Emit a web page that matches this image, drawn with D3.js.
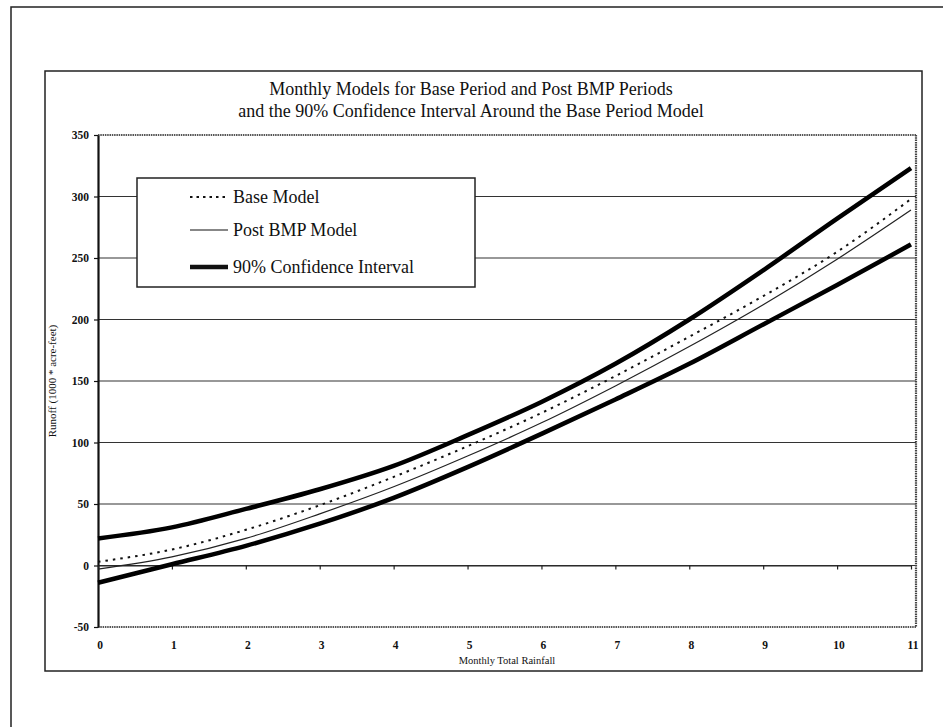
<!DOCTYPE html>
<html>
<head>
<meta charset="utf-8">
<script src="https://cdn.jsdelivr.net/npm/d3@7"></script>
<style>
  body { margin: 0; background: #fff; }
  svg { display: block; }
  text { font-family: "Liberation Serif", "Times New Roman", serif; }
  .tick-label { font-size: 11.5px; font-weight: bold; fill: #111; }
</style>
</head>
<body>
<svg id="chart"></svg>
<script>
// Monthly total rainfall (x) and the modelled runoff for each series
const rainfall = [0, 1, 2, 3, 4, 5, 6, 7, 8, 9, 10, 11];
const baseModel = [3, 13, 29, 49, 72, 97, 124, 154, 186, 219, 255, 298];
const postBmpModel = [-3, 7, 22, 42, 64, 89, 116, 146, 178, 212, 249, 289];
const ciUpper = [22, 31, 46, 62, 81, 106, 133, 164, 200, 240, 282, 323];
const ciLower = [-14, 1, 16, 34, 55, 80, 107, 135, 164, 196, 228, 261];

const yTicks = [-50, 0, 50, 100, 150, 200, 250, 300, 350];
const xTicks = [0, 1, 2, 3, 4, 5, 6, 7, 8, 9, 10, 11];

const titleLines = [
    'Monthly Models for Base Period and Post BMP Periods',
    'and the 90% Confidence Interval Around the Base Period Model'
];
const legendLabels = ['Base Model', 'Post BMP Model', '90% Confidence Interval'];

const width = 943, height = 727;
const serif = '"Liberation Serif", "Times New Roman", serif';

const svg = d3.select('#chart')
    .attr('width', width)
    .attr('height', height);

// outer page frame (runs off the right and bottom of the scan)
svg.append('rect')
    .attr('x', 11).attr('y', 7)
    .attr('width', 1000).attr('height', 800)
    .attr('fill', 'none')
    .attr('stroke', '#222')
    .attr('stroke-width', 1.5);

// chart area box
svg.append('rect')
    .attr('x', 45).attr('y', 71)
    .attr('width', 877).attr('height', 600)
    .attr('fill', '#fff')
    .attr('stroke', '#222')
    .attr('stroke-width', 1.5);

// title
svg.append('g')
    .selectAll('text')
    .data(titleLines)
    .join('text')
    .attr('x', 471)
    .attr('y', (d, i) => 95 + i * 22)
    .attr('text-anchor', 'middle')
    .style('font-family', serif)
    .style('font-size', '18px')
    .style('fill', '#111')
    .text(d => d);

// scales
const plot = {left: 98, right: 916, top: 135, bottom: 627};
const xScale = d3.scaleLinear().domain([0, 11]).range([98, 911]);
const yScale = d3.scaleLinear().domain([-50, 350]).range([plot.bottom, plot.top]);

// horizontal gridlines
svg.append('g')
    .selectAll('line')
    .data(yTicks.filter(d => d > -50 && d < 350))
    .join('line')
    .attr('x1', plot.left).attr('x2', plot.right)
    .attr('y1', d => yScale(d)).attr('y2', d => yScale(d))
    .attr('stroke', '#333')
    .attr('stroke-width', 1.2);

// plot area border: textured top/bottom, thick right
svg.append('g')
    .selectAll('line')
    .data([plot.top, plot.bottom])
    .join('line')
    .attr('x1', plot.left).attr('x2', plot.right)
    .attr('y1', d => d).attr('y2', d => d)
    .attr('stroke', '#555')
    .attr('stroke-width', 2.2)
    .attr('stroke-dasharray', '1.5,0.8');
svg.append('line')
    .attr('x1', plot.right).attr('x2', plot.right)
    .attr('y1', plot.top).attr('y2', plot.bottom)
    .attr('stroke', '#444')
    .attr('stroke-width', 2.2)
    .attr('stroke-dasharray', '1.5,0.8');

// y axis
const yAxis = d3.axisLeft(yScale)
    .tickValues(yTicks)
    .tickFormat(d => String(d))
    .tickSize(4)
    .tickSizeOuter(0)
    .tickPadding(5);
const yAxisG = svg.append('g')
    .attr('transform', `translate(${plot.left},0)`)
    .call(yAxis);
yAxisG.attr('font-family', null);
yAxisG.select('.domain').attr('stroke', '#111').attr('stroke-width', 2.2);
yAxisG.selectAll('.tick line').attr('stroke', '#111').attr('stroke-width', 1.2);
yAxisG.selectAll('.tick text')
    .attr('class', 'tick-label')
    .style('font-family', serif);

// x axis sits on the zero line, labels hang below the plot
const xAxis = d3.axisBottom(xScale)
    .tickValues(xTicks)
    .tickSize(4)
    .tickSizeOuter(0)
    .tickFormat('');
const xAxisG = svg.append('g')
    .attr('transform', `translate(0,${yScale(0)})`)
    .call(xAxis);
xAxisG.select('.domain').attr('stroke', '#222').attr('stroke-width', 1.2);
xAxisG.selectAll('.tick line').attr('stroke', '#222').attr('stroke-width', 1.2);

svg.append('g')
    .selectAll('text')
    .data(xTicks)
    .join('text')
    .attr('class', 'tick-label')
    .attr('x', d => xScale(d) + 2)
    .attr('y', 649)
    .attr('text-anchor', 'middle')
    .style('font-family', serif)
    .text(d => d);

// axis titles
svg.append('text')
    .attr('x', 507)
    .attr('y', 664)
    .attr('text-anchor', 'middle')
    .style('font-family', serif)
    .style('font-size', '10.5px')
    .style('fill', '#111')
    .text('Monthly Total Rainfall');

svg.append('text')
    .attr('transform', 'translate(56,381) rotate(-90)')
    .attr('text-anchor', 'middle')
    .style('font-family', serif)
    .style('font-size', '11px')
    .style('fill', '#111')
    .text('Runoff (1000 * acre-feet)');

// series
const line = d3.line()
    .x((d, i) => xScale(rainfall[i]))
    .y(d => yScale(d))
    .curve(d3.curveMonotoneX);

const series = [
    {values: ciUpper, width: 4.5, dash: null, color: '#000'},
    {values: ciLower, width: 4.5, dash: null, color: '#000'},
    {values: postBmpModel, width: 1.2, dash: null, color: '#222'},
    {values: baseModel, width: 2, dash: '2.5,5', color: '#111'}
];

svg.append('g')
    .selectAll('path')
    .data(series)
    .join('path')
    .attr('d', d => line(d.values))
    .attr('fill', 'none')
    .attr('stroke', d => d.color)
    .attr('stroke-width', d => d.width)
    .attr('stroke-dasharray', d => d.dash);

// legend
const legend = svg.append('g');
legend.append('rect')
    .attr('x', 137).attr('y', 178)
    .attr('width', 338).attr('height', 109)
    .attr('fill', '#fff')
    .attr('stroke', '#222')
    .attr('stroke-width', 1.5);

const legendStyles = [
    {width: 2, dash: '2.5,4'},
    {width: 1.2, dash: null},
    {width: 4.5, dash: null}
];
const legendY = [203, 236, 273];

legend.selectAll('line')
    .data(legendLabels)
    .join('line')
    .attr('x1', 190).attr('x2', 228)
    .attr('y1', (d, i) => legendY[i] - 6)
    .attr('y2', (d, i) => legendY[i] - 6)
    .attr('stroke', '#111')
    .attr('stroke-width', (d, i) => legendStyles[i].width)
    .attr('stroke-dasharray', (d, i) => legendStyles[i].dash);

legend.selectAll('text')
    .data(legendLabels)
    .join('text')
    .attr('x', 233)
    .attr('y', (d, i) => legendY[i])
    .style('font-family', serif)
    .style('font-size', '18px')
    .style('fill', '#111')
    .text(d => d);
</script>
</body>
</html>
